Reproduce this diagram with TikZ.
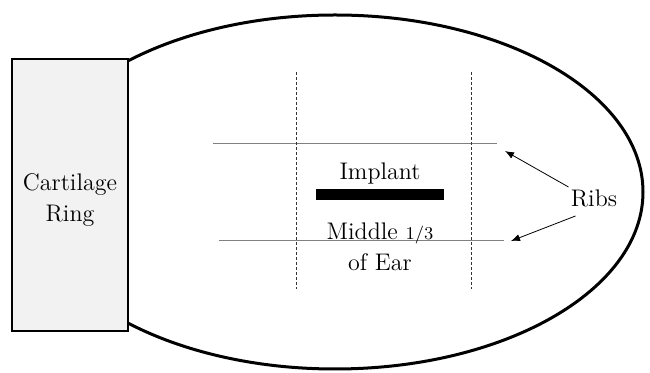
\documentclass[tikz,border=0pt]{standalone}
\usetikzlibrary{shapes.geometric,positioning,arrows.meta}

\tikzset{
  earshape/.style={draw, ellipse, line width=1.5pt, minimum width=308pt, minimum height=177pt, inner sep=0pt},
  ringbox/.style={draw, line width=1pt, fill=gray!10, minimum width=58pt, minimum height=136pt, inner sep=0pt},
  ribline/.style={draw=gray, line width=0.5pt},
  thirdline/.style={draw=black!80, line width=0.5pt, dash pattern=on 1.5pt off 1pt},
  implantbar/.style={fill=black, minimum width=64pt, minimum height=5.5pt, inner sep=0pt},
  pointer/.style={->, line width=0.4pt}
}

\begin{document}
\begin{tikzpicture}[x=0.5pt, y=-0.5pt, >={Latex[length=4.5pt,width=3.5pt]}, font=\fontsize{12}{15.5}\selectfont]
\useasboundingbox (0,0) rectangle (650,373);
\node (ear) [earshape] at (335,192) {};
\node (ring) [ringbox] at (70,195) {};
\node (ringtext) [align=center] at ([yshift=-2.5pt]ring.center) {Cartilage\\Ring};

% ribs
\draw[ribline] (213,144) -- (497,144);
\draw[ribline] (219,241) -- (504,241);

% middle third
\draw[thirdline] (297,72) -- (297,289);
\draw[thirdline] (472,72) -- (472,289);

\node (bar) [implantbar] at (380,194.5) {};
\node (implant) [above=-1.5pt of bar] {Implant};
\node (middle) [below=7.5pt of bar, align=center] {Middle {\small 1/3}\\of Ear};

\node (ribs) [inner sep=1pt] at (594,198) {Ribs};
\coordinate (rib1) at (505,151);
\coordinate (rib2) at (511,241);
\draw[pointer] (ribs.north west) -- (rib1);
\draw[pointer] ([xshift=3.5pt,yshift=-3.5pt]ribs.south west) -- (rib2);
\end{tikzpicture}
\end{document}
